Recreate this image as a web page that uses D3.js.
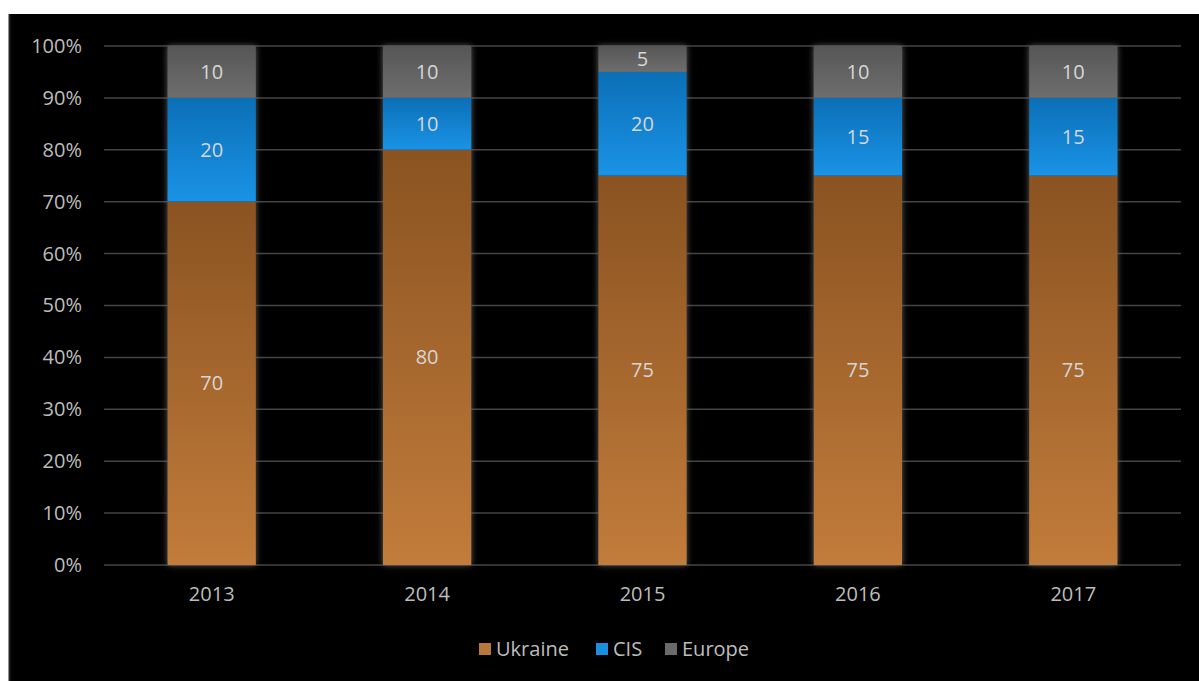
<!DOCTYPE html>
<html>
<head>
<meta charset="utf-8">
<script src="https://cdn.jsdelivr.net/npm/d3@7"></script>
<style>
  body { margin: 0; background: #ffffff; }
  text { font-family: "Open Sans", "Noto Sans", sans-serif; }
</style>
</head>
<body>
<div id="viz"></div>
<script>
// data
const years = ["2013", "2014", "2015", "2016", "2017"];
const seriesNames = ["Ukraine", "CIS", "Europe"];
const ukraine = [70, 80, 75, 75, 75];
const cis = [20, 10, 20, 15, 15];
const europe = [10, 10, 5, 10, 10];
const yTicks = [0, 10, 20, 30, 40, 50, 60, 70, 80, 90, 100];

// colors: top and bottom of each segment gradient
const colTop = {Ukraine: "#8a5321", CIS: "#0b6fb6", Europe: "#565656"};
const colBottom = {Ukraine: "#c27c3b", CIS: "#1a93e6", Europe: "#6e6e6e"};
const colLegend = {Ukraine: "#b8783a", CIS: "#1a8fe0", Europe: "#6a6a6a"};

const width = 1199;
const height = 681;
const margin = {left: 104, top: 46, right: 18, bottom: 116};
const g_width = width - margin.left - margin.right;
const g_height = height - margin.top - margin.bottom;

const svg = d3.select("#viz")
  .append("svg")
  .attr("width", width)
  .attr("height", height);

// black panel
svg.append("rect")
  .attr("x", 9).attr("y", 14)
  .attr("width", width - 9).attr("height", height - 14)
  .attr("fill", "#000");
svg.append("line")
  .attr("x1", 9.5).attr("x2", 9.5).attr("y1", 14).attr("y2", height)
  .attr("stroke", "#222").attr("stroke-width", 2);

const defs = svg.append("defs");
seriesNames.forEach(function(s) {
  const gr = defs.append("linearGradient")
    .attr("id", "grad-" + s)
    .attr("x1", 0).attr("y1", 0).attr("x2", 0).attr("y2", 1);
  gr.append("stop").attr("offset", "0%").attr("stop-color", colTop[s]);
  gr.append("stop").attr("offset", "100%").attr("stop-color", colBottom[s]);
});
const glow = defs.append("filter").attr("id", "glow")
  .attr("x", "-20%").attr("y", "-5%").attr("width", "140%").attr("height", "110%");
glow.append("feDropShadow")
  .attr("dx", 0).attr("dy", 0).attr("stdDeviation", 3)
  .attr("flood-color", "#777").attr("flood-opacity", 0.8);

const g = svg.append("g")
  .attr("transform", "translate(" + margin.left + "," + margin.top + ")");

const x = d3.scaleBand().domain(years).range([0, g_width])
  .paddingInner(0.59).paddingOuter(0.295);
const y = d3.scaleLinear().domain([0, 100]).range([g_height, 0]);

// gridlines
g.append("g")
  .selectAll("line")
  .data(yTicks)
  .enter()
  .append("line")
  .attr("x1", 0).attr("x2", g_width)
  .attr("y1", function(d) { return y(d); })
  .attr("y2", function(d) { return y(d); })
  .attr("stroke", "#444")
  .attr("stroke-width", 1.5);

// y axis labels
const y_axis = d3.axisLeft(y).tickValues(yTicks)
  .tickFormat(function(d) { return d + "%"; })
  .tickSize(0).tickPadding(22);
const ya = g.append("g").call(y_axis);
ya.select(".domain").remove();
ya.selectAll("text")
  .attr("fill", "#bdbdbd")
  .style("font-size", "20px");

// x axis labels
const x_axis = d3.axisBottom(x).tickSize(0).tickPadding(22);
const xa = g.append("g")
  .attr("transform", "translate(0," + g_height + ")")
  .call(x_axis);
xa.select(".domain").remove();
xa.selectAll("text")
  .attr("fill", "#bdbdbd")
  .style("font-size", "20px");

// stacked data
const table = years.map(function(yr, i) {
  return {year: yr, Ukraine: ukraine[i], CIS: cis[i], Europe: europe[i]};
});
const stack = d3.stack().keys(seriesNames)(table);

// glow behind the whole bar
g.append("g")
  .selectAll("rect")
  .data(table)
  .enter()
  .append("rect")
  .attr("x", function(d) { return x(d.year); })
  .attr("y", y(100))
  .attr("width", x.bandwidth())
  .attr("height", g_height)
  .attr("fill", "#000")
  .attr("filter", "url(#glow)");

const layers = g.append("g")
  .selectAll("g")
  .data(stack)
  .enter()
  .append("g");

layers.selectAll("rect")
  .data(function(d) { return d.map(function(p) { return {key: d.key, p: p}; }); })
  .enter()
  .append("rect")
  .attr("x", function(d) { return x(d.p.data.year); })
  .attr("y", function(d) { return y(d.p[1]); })
  .attr("width", x.bandwidth())
  .attr("height", function(d) { return y(d.p[0]) - y(d.p[1]); })
  .attr("fill", function(d) { return "url(#grad-" + d.key + ")"; });

// data labels
layers.selectAll("text")
  .data(function(d) { return d.map(function(p) { return {key: d.key, p: p}; }); })
  .enter()
  .append("text")
  .attr("x", function(d) { return x(d.p.data.year) + x.bandwidth() / 2; })
  .attr("y", function(d) { return y((d.p[0] + d.p[1]) / 2); })
  .attr("dy", "0.35em")
  .attr("text-anchor", "middle")
  .attr("fill", "#d6d6d6")
  .style("font-size", "20px")
  .text(function(d) { return d.p[1] - d.p[0]; });

// legend
const legendItems = [
  {name: "Ukraine", x: 479},
  {name: "CIS", x: 596},
  {name: "Europe", x: 665}
];
const lg = svg.append("g").attr("transform", "translate(0,648)");
legendItems.forEach(function(it) {
  lg.append("rect")
    .attr("x", it.x).attr("y", -5)
    .attr("width", 12).attr("height", 12)
    .attr("fill", colLegend[it.name]);
  lg.append("text")
    .attr("x", it.x + 17).attr("y", 1)
    .attr("dy", "0.35em")
    .attr("fill", "#bdbdbd")
    .style("font-size", "20px")
    .text(it.name);
});
</script>
</body>
</html>
